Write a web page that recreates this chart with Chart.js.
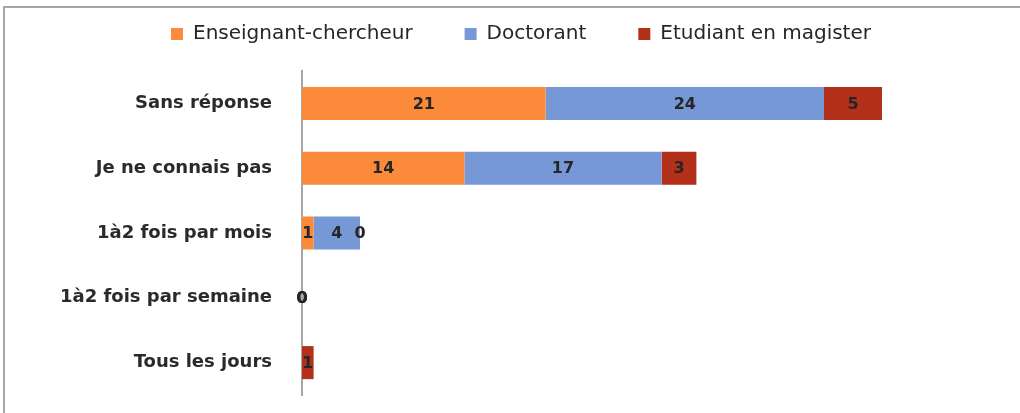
<!DOCTYPE html>
<html>
<head>
<meta charset="utf-8">
<script src="https://cdn.jsdelivr.net/npm/chart.js@4"></script>
<style>
  html, body { margin: 0; padding: 0; background: #fff; }
  #wrap { width: 1020px; height: 413px; }
</style>
</head>
<body>
<div id="wrap"><canvas id="graph"></canvas></div>
<script>
var categories = ['Sans réponse', 'Je ne connais pas', '1à2 fois par mois', '1à2 fois par semaine', 'Tous les jours'];
var seriesNames = ['Enseignant-chercheur', 'Doctorant', 'Etudiant en magister'];
var enseignant = [21, 14, 1, 0, null];
var doctorant = [24, 17, 4, 0, null];
var magister = [5, 3, 0, 0, 1];

// frame lines around the picture (top + left)
var frame = {
    id: 'frame',
    beforeDraw: function (chart) {
        var c = chart.ctx;
        c.save();
        c.strokeStyle = '#a6a6a6';
        c.lineWidth = 2;
        c.beginPath();
        c.moveTo(4, 413);
        c.lineTo(4, 7);
        c.lineTo(1020, 7);
        c.stroke();
        c.restore();
    }
};

// value labels in the middle of each segment
var valeurs = {
    id: 'valeurs',
    afterDatasetsDraw: function (chart) {
        var c = chart.ctx;
        c.save();
        c.font = 'bold 16px "DejaVu Sans"';
        c.fillStyle = '#262626';
        c.textAlign = 'center';
        c.textBaseline = 'middle';
        chart.data.datasets.forEach(function (ds, i) {
            var meta = chart.getDatasetMeta(i);
            meta.data.forEach(function (bar, j) {
                var v = ds.data[j];
                if (v === null) return;
                c.fillText(String(v), (bar.x + bar.base) / 2, bar.y + 1);
            });
        });
        c.restore();
    }
};

var ctx = document.getElementById('graph').getContext('2d');
var graph = new Chart(ctx, {
    type: 'bar',
    data: {
        labels: categories,
        datasets: [
            { label: seriesNames[0], data: enseignant, backgroundColor: '#fb8a3a' },
            { label: seriesNames[1], data: doctorant, backgroundColor: '#7698d6' },
            { label: seriesNames[2], data: magister, backgroundColor: '#b3301b' }
        ]
    },
    options: {
        indexAxis: 'y',
        responsive: true,
        maintainAspectRatio: false,
        animation: false,
        datasets: { bar: { categoryPercentage: 1, barPercentage: 0.51 } },
        layout: { padding: { top: -28, bottom: 18, left: 44, right: 22 } },
        plugins: {
            tooltip: { enabled: false },
            legend: {
                position: 'top',
                labels: { boxWidth: 12, boxHeight: 12, padding: 52, color: '#262626', font: { family: 'DejaVu Sans', size: 20 } }
            }
        },
        scales: {
            x: {
                stacked: true,
                position: 'top',
                min: 0,
                max: 60,
                grid: { display: false },
                border: { display: false },
                ticks: { display: false },
                afterFit: function (scale) { scale.height = 17; }
            },
            y: {
                stacked: true,
                grid: { display: false },
                border: { display: true, color: '#a6a6a6', width: 2 },
                ticks: { color: '#2a2a2a', padding: 22, font: { family: 'DejaVu Sans', size: 18, weight: 'bold' } },
                afterFit: function (scale) {
                    scale.width = 258;
                    scale.paddingTop = 0;
                    scale.paddingBottom = 0;
                }
            }
        }
    },
    plugins: [frame, valeurs]
});
</script>
</body>
</html>
